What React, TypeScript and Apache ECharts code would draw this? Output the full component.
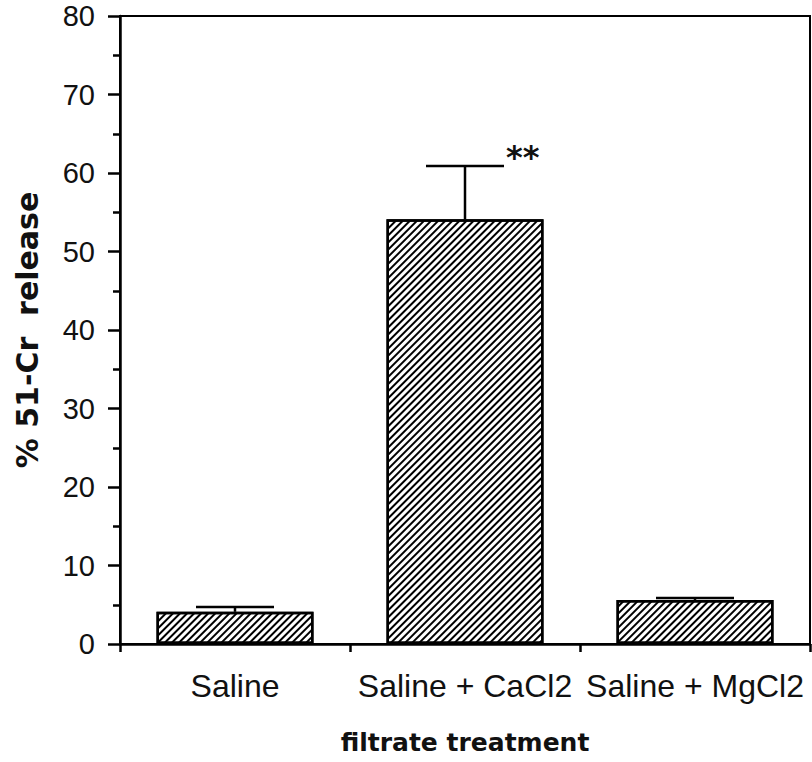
import React, { useEffect, useRef } from "react";
import * as echarts from "echarts";

const categories = ["Saline", "Saline + CaCl2", "Saline + MgCl2"];
const means = [4.1, 54.1, 5.6];
const errors = [0.6, 6.8, 0.25];
const significance = ["", "**", ""];
const yTicks = { min: 0, max: 80, interval: 10 };

export default function App() {
  const ref = useRef<HTMLDivElement>(null);
  useEffect(() => {
    document.body.style.margin = "0";
    const chart = echarts.init(ref.current!, null, { renderer: "svg" });
    const errData = categories.map((c, i) => [i, means[i], means[i] + errors[i], significance[i]]);
    const option: any = {
      animation: false,
      backgroundColor: "#fff",
      grid: {
        left: 120,
        right: 2,
        top: 16,
        bottom: 118,
        show: true,
        borderColor: "#000",
        borderWidth: 2,
      },
      xAxis: {
        type: "category",
        data: categories,
        name: "filtrate treatment",
        nameLocation: "middle",
        nameGap: 86,
        nameTextStyle: {
          fontFamily: "DejaVu Sans",
          fontWeight: "bold",
          fontSize: 25,
          color: "#111",
        },
        axisLine: { lineStyle: { color: "#000", width: 2.5 } },
        axisTick: { show: true, length: 8, lineStyle: { color: "#000", width: 2.5 } },
        axisLabel: {
          margin: 26,
          fontFamily: "Liberation Sans",
          fontSize: 32,
          color: "#111",
          interval: 0,
        },
        splitLine: { show: false },
      },
      yAxis: {
        type: "value",
        min: yTicks.min,
        max: yTicks.max,
        interval: yTicks.interval,
        name: "% 51-Cr  release",
        nameLocation: "middle",
        nameGap: 78,
        nameTextStyle: {
          fontFamily: "DejaVu Sans",
          fontWeight: "bold",
          fontSize: 30,
          color: "#111",
        },
        axisLine: { show: true, lineStyle: { color: "#000", width: 2.5 } },
        axisTick: { show: true, length: 12, lineStyle: { color: "#000", width: 2.5 } },
        minorTick: { show: true, splitNumber: 2, length: 7, lineStyle: { color: "#000", width: 2.5 } },
        axisLabel: {
          margin: 25,
          fontFamily: "Liberation Sans",
          fontSize: 29,
          color: "#111",
        },
        splitLine: { show: false },
      },
      series: [
        {
          type: "bar",
          data: means,
          barWidth: 157,
          itemStyle: {
            color: "#fff",
            borderColor: "#000",
            borderWidth: 2.5,
            decal: {
              symbol: "rect",
              symbolSize: 1,
              color: "#000",
              backgroundColor: "#fff",
              dashArrayX: [1, 0],
              dashArrayY: [1.4, 3],
              rotation: -Math.PI / 4,
            },
          },
        },
        {
          type: "custom",
          data: errData,
          z: 5,
          renderItem: (params: any, api: any) => {
            const x = api.value(0);
            const lo = api.coord([x, api.value(1)]);
            const hi = api.coord([x, api.value(2)]);
            const half = 39;
            const label = api.value(3);
            const children: any[] = [
              {
                type: "line",
                shape: { x1: lo[0], y1: lo[1], x2: hi[0], y2: hi[1] },
                style: { stroke: "#000", lineWidth: 2.5 },
              },
              {
                type: "line",
                shape: { x1: hi[0] - half, y1: hi[1], x2: hi[0] + half, y2: hi[1] },
                style: { stroke: "#000", lineWidth: 2.5 },
              },
            ];
            if (label) {
              children.push({
                type: "text",
                x: hi[0] + half + 2,
                y: hi[1] - 25,
                style: {
                  text: label,
                  fontFamily: "DejaVu Sans",
                  fontWeight: "bold",
                  fontSize: 32,
                  fill: "#111",
                  verticalAlign: "top",
                  align: "left",
                },
              });
            }
            return { type: "group", children };
          },
        },
      ],
    };
    chart.setOption(option);
    return () => chart.dispose();
  }, []);
  return <div ref={ref} style={{ width: 812, height: 762 }} />;
}
